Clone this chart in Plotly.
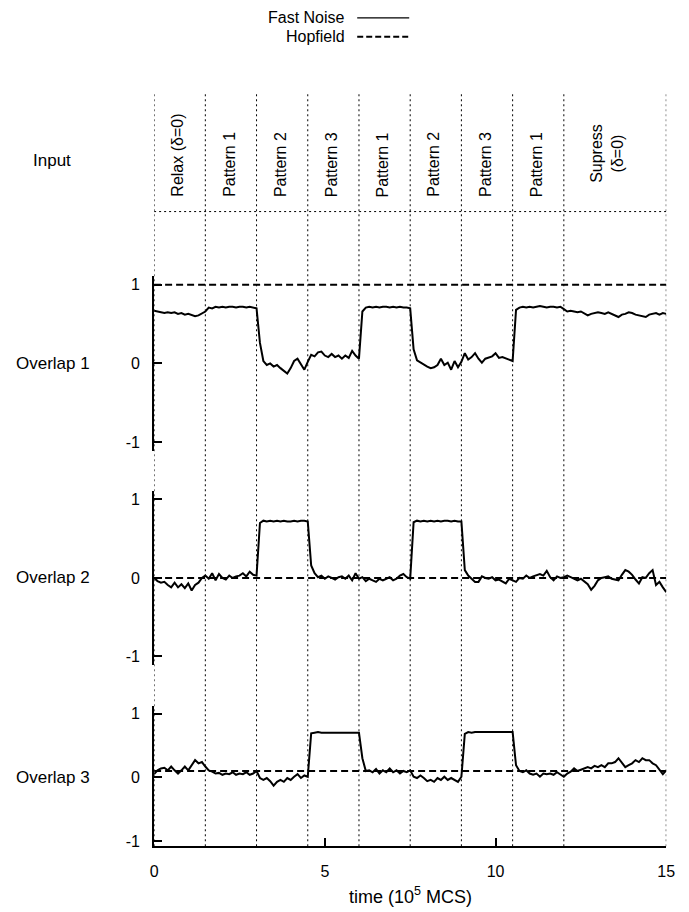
import plotly.graph_objects as go

# ---------------- data ----------------
TIME_STEP = 0.1  # 10^5 MCS between samples

OVERLAP_1 = [
    0.67, 0.66, 0.65, 0.64, 0.65, 0.64, 0.65, 0.63, 0.64, 0.62,
    0.63, 0.61, 0.60, 0.61, 0.63, 0.66, 0.71, 0.70, 0.72, 0.71,
    0.72, 0.71, 0.72, 0.72, 0.71, 0.72, 0.72, 0.71, 0.72, 0.71,
    0.70, 0.26, 0.03, -0.02, 0.00, -0.04, -0.02, -0.06, -0.10, -0.13,
    -0.06, 0.03, 0.06, -0.02, -0.08, 0.02, 0.11, 0.09, 0.14, 0.15,
    0.10, 0.08, 0.12, 0.08, 0.10, 0.06, 0.10, 0.07, 0.16, 0.10,
    0.06, 0.66, 0.71, 0.72, 0.71, 0.72, 0.71, 0.72, 0.72, 0.71,
    0.72, 0.71, 0.72, 0.71, 0.71, 0.70, 0.18, 0.04, 0.01, -0.02,
    -0.04, -0.06, -0.05, -0.02, 0.06, -0.02, 0.01, -0.08, 0.03, -0.05,
    0.02, 0.13, 0.05, 0.08, 0.13, 0.06, 0.01, 0.06, 0.08, 0.09,
    0.13, 0.07, 0.08, 0.06, 0.04, 0.03, 0.68, 0.71, 0.72, 0.71,
    0.72, 0.71, 0.72, 0.73, 0.72, 0.71, 0.72, 0.72, 0.71, 0.72,
    0.69, 0.66, 0.67, 0.66, 0.65, 0.66, 0.64, 0.61, 0.63, 0.64,
    0.65, 0.64, 0.63, 0.65, 0.63, 0.61, 0.59, 0.62, 0.63, 0.65,
    0.64, 0.62, 0.61, 0.60, 0.59, 0.62, 0.63, 0.64, 0.62, 0.64,
    0.63,
]

OVERLAP_2 = [
    0.00, -0.04, -0.06, -0.05, -0.09, -0.12, -0.06, -0.12, -0.08, -0.13,
    -0.07, -0.16, -0.09, -0.06, 0.00, 0.03, -0.01, 0.06, -0.03, 0.05,
    0.00, -0.02, 0.03, 0.00, 0.02, 0.03, 0.06, 0.02, 0.08, 0.04,
    0.03, 0.70, 0.73, 0.72, 0.73, 0.72, 0.73, 0.72, 0.73, 0.72,
    0.72, 0.73, 0.72, 0.73, 0.73, 0.72, 0.16, 0.06, 0.01, 0.03,
    -0.01, 0.02, 0.00, -0.02, 0.01, 0.02, -0.01, 0.03, -0.03, 0.06,
    -0.01, 0.01, -0.04, -0.01, -0.03, -0.05, -0.01, -0.03, -0.01, 0.01,
    -0.03, -0.01, 0.03, 0.05, 0.01, -0.01, 0.71, 0.73, 0.72, 0.73,
    0.72, 0.73, 0.72, 0.73, 0.72, 0.73, 0.73, 0.72, 0.73, 0.72,
    0.72, 0.10, 0.03, -0.01, -0.05, -0.05, 0.02, 0.00, -0.01, 0.01,
    -0.03, -0.02, -0.04, -0.07, -0.01, -0.03, -0.05, 0.00, -0.01, 0.03,
    0.00, 0.02, 0.04, 0.05, 0.03, 0.09, 0.01, -0.03, 0.02, 0.00,
    0.01, 0.03, 0.01, -0.01, -0.03, -0.01, -0.05, -0.08, -0.15, -0.10,
    -0.03, 0.00, 0.01, 0.02, -0.01, -0.02, -0.03, 0.04, 0.10, 0.08,
    0.04, -0.02, -0.07, 0.01, 0.00, 0.06, 0.10, -0.09, -0.05, -0.12,
    -0.18,
]

OVERLAP_3 = [
    0.05, 0.11, 0.14, 0.15, 0.11, 0.17, 0.11, 0.06, 0.11, 0.17,
    0.11, 0.19, 0.27, 0.22, 0.24, 0.17, 0.11, 0.09, 0.06, 0.07,
    0.04, 0.06, 0.05, 0.08, 0.04, 0.06, 0.05, 0.08, 0.04, 0.06,
    0.10, -0.01, -0.04, -0.01, -0.06, -0.13, -0.07, -0.04, -0.07, -0.01,
    -0.04, 0.01, 0.05, -0.01, 0.03, 0.01, 0.69, 0.70, 0.71, 0.70,
    0.70, 0.71, 0.70, 0.70, 0.71, 0.70, 0.71, 0.70, 0.70, 0.71,
    0.70, 0.30, 0.10, 0.11, 0.08, 0.13, 0.06, 0.11, 0.08, 0.14,
    0.08, 0.11, 0.06, 0.10, 0.08, 0.11, 0.01, -0.01, 0.03, -0.01,
    -0.06, -0.04, -0.07, -0.01, -0.04, 0.01, -0.04, -0.01, -0.04, -0.07,
    0.01, 0.68, 0.71, 0.70, 0.71, 0.71, 0.70, 0.71, 0.71, 0.70,
    0.71, 0.70, 0.71, 0.71, 0.70, 0.71, 0.19, 0.10, 0.08, 0.11,
    0.06, 0.04, 0.06, 0.01, 0.06, 0.05, 0.06, 0.04, 0.08, 0.04,
    0.01, 0.06, 0.09, 0.14, 0.10, 0.12, 0.14, 0.16, 0.14, 0.18,
    0.16, 0.19, 0.16, 0.22, 0.22, 0.24, 0.30, 0.22, 0.16, 0.19,
    0.22, 0.27, 0.24, 0.30, 0.27, 0.27, 0.22, 0.19, 0.11, 0.05,
    0.11,
]

HOPFIELD = [1.0, 0.0, 0.1]          # constant Hopfield overlap per panel
T_RANGE = [0, 15]
BOUNDARIES = [0, 1.5, 3, 4.5, 6, 7.5, 9, 10.5, 12, 15]
INPUT_LABELS = ["Relax (δ=0)", "Pattern 1", "Pattern 2", "Pattern 3",
                "Pattern 1", "Pattern 2", "Pattern 3", "Pattern 1",
                "Supress<br>(δ=0)"]
PANEL_LABELS = ["Overlap 1", "Overlap 2", "Overlap 3"]
X_TICKS = [0, 5, 10, 15]
Y_TICKS = [-1, 0, 1]
SERIES_NAMES = ["Fast Noise", "Hopfield"]

# ---------------- layout helpers (pixel geometry of the 689x912 page) ----------------
W, H = 689, 912
def px(xp): return xp / W
def py(yp): return (H - yp) / H

FONT = "Liberation Sans, Arial, Helvetica, sans-serif"

t = [round(i * TIME_STEP, 2) for i in range(len(OVERLAP_1))]
overlaps = [OVERLAP_1, OVERLAP_2, OVERLAP_3]
yaxes = ["y", "y2", "y3"]

fig = go.Figure()
for k in range(3):
    fig.add_trace(go.Scatter(x=t, y=overlaps[k], mode="lines", yaxis=yaxes[k],
                             line=dict(color="black", width=2),
                             name=SERIES_NAMES[0], showlegend=False, hoverinfo="skip"))
    fig.add_trace(go.Scatter(x=T_RANGE, y=[HOPFIELD[k], HOPFIELD[k]], mode="lines",
                             yaxis=yaxes[k],
                             line=dict(color="black", width=2, dash="7px,4px"),
                             name=SERIES_NAMES[1], showlegend=False, hoverinfo="skip"))

x_dom = [px(153), px(675)]
yax_common = dict(showgrid=False, zeroline=False, showline=True, linecolor="black",
                  linewidth=2, ticks="inside", ticklen=8, tickwidth=1.5, tickcolor="black",
                  tickvals=Y_TICKS, ticktext=[str(v) for v in Y_TICKS],
                  tickfont=dict(family=FONT, size=16, color="black"),
                  ticklabelstandoff=9, anchor="x", fixedrange=True)

fig.update_layout(
    width=W, height=H,
    margin=dict(l=0, r=0, t=0, b=0),
    paper_bgcolor="white", plot_bgcolor="rgba(0,0,0,0)",
    showlegend=False,
    xaxis=dict(domain=x_dom, range=T_RANGE, anchor="y3", showgrid=False, zeroline=False,
               showline=True, linecolor="black", linewidth=2, ticks="inside", ticklen=8,
               tickwidth=1.5, tickcolor="black", tickvals=X_TICKS,
               tickfont=dict(family=FONT, size=16, color="black"), ticklabelstandoff=10),
    yaxis=dict(domain=[py(452), py(276)], range=[-1.114, 1.114], **yax_common),
    yaxis2=dict(domain=[py(667), py(492)], range=[-1.11, 1.11], **yax_common),
    yaxis3=dict(domain=[py(849), py(708)], range=[-1.08, 1.12], **yax_common),
)

shapes = []
# dotted vertical input boundaries
for b in BOUNDARIES:
    shapes.append(dict(type="line", xref="x", yref="paper", x0=b, x1=b,
                       y0=py(849), y1=py(91), layer="below",
                       line=dict(color="black", width=1, dash="2px,3px")))
# dotted horizontal line under the input row
shapes.append(dict(type="line", xref="x", yref="paper", x0=BOUNDARIES[0], x1=BOUNDARIES[-1],
                   y0=py(211.5), y1=py(211.5), layer="below",
                   line=dict(color="black", width=1, dash="2px,3px")))
# legend samples
shapes.append(dict(type="line", xref="paper", yref="paper", x0=px(360), x1=px(413),
                   y0=py(17), y1=py(17), line=dict(color="black", width=1.2)))
shapes.append(dict(type="line", xref="paper", yref="paper", x0=px(360), x1=px(413),
                   y0=py(36), y1=py(36), line=dict(color="black", width=2, dash="6px,3px")))

ann = []
# legend text
ann.append(dict(text=SERIES_NAMES[0], xref="paper", yref="paper", x=px(350), y=py(17),
                xanchor="right", yanchor="middle", showarrow=False,
                font=dict(family=FONT, size=16, color="black")))
ann.append(dict(text=SERIES_NAMES[1], xref="paper", yref="paper", x=px(350), y=py(36),
                xanchor="right", yanchor="middle", showarrow=False,
                font=dict(family=FONT, size=16, color="black")))
# input labels
for i, lab in enumerate(INPUT_LABELS):
    c = (BOUNDARIES[i] + BOUNDARIES[i + 1]) / 2
    if "<br>" in lab:
        ann.append(dict(text=lab, xref="x", yref="paper", x=c - 0.22, y=py(153),
                        xanchor="center", yanchor="middle", textangle=-90, showarrow=False,
                        align="center", font=dict(family=FONT, size=16, color="black")))
    else:
        ann.append(dict(text=lab, xref="x", yref="paper", x=c - 0.05, y=py(199),
                        xanchor="center", yanchor="bottom", textangle=-90, showarrow=False,
                        font=dict(family=FONT, size=16, color="black")))
# row labels
ann.append(dict(text="Input", xref="paper", yref="paper", x=px(49), y=py(160),
                xanchor="center", yanchor="middle", showarrow=False,
                font=dict(family=FONT, size=17, color="black")))
for k, lab in enumerate(PANEL_LABELS):
    ann.append(dict(text=lab, xref="paper", yref=yaxes[k], x=px(50), y=0,
                    showarrow=False, xanchor="center", yanchor="middle",
                    font=dict(family=FONT, size=17, color="black")))
# x-axis title
ann.append(dict(text="time (10<sup>5</sup> MCS)", xref="paper", yref="paper",
                x=(x_dom[0] + x_dom[1]) / 2, y=py(898), xanchor="center", yanchor="middle",
                showarrow=False, font=dict(family=FONT, size=18, color="black")))

fig.update_layout(shapes=shapes, annotations=ann)
fig.write_html("out.html")
